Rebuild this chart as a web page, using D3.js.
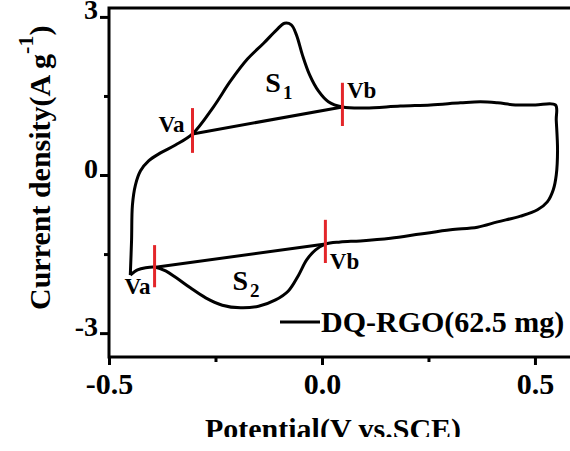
<!DOCTYPE html>
<html>
<head>
<meta charset="utf-8">
<script src="https://cdn.jsdelivr.net/npm/d3@7"></script>
<style>
  body { margin: 0; background: #fff; }
  svg { display: block; }
  text { font-family: "Liberation Serif", "Times New Roman", serif; font-weight: bold; fill: #000; }
</style>
</head>
<body>
<div id="graph"></div>
<script>
// CV loop, traced around from the lower-left corner (anodic branch first)
var cvPotential = [-0.450, -0.447, -0.445, -0.438, -0.426, -0.407, -0.379, -0.344, -0.304,
  -0.255, -0.215, -0.175, -0.137, -0.107, -0.088, -0.072, -0.060, -0.046, -0.029, -0.008,
  0.015, 0.048, 0.102, 0.184, 0.255, 0.325, 0.372, 0.412, 0.454, 0.501, 0.548,
  0.550, 0.553, 0.550, 0.543, 0.529, 0.506, 0.466, 0.412, 0.365, 0.302, 0.231, 0.161,
  0.090, 0.043, 0.008, -0.015, -0.036, -0.055, -0.079, -0.109, -0.149, -0.191, -0.234,
  -0.273, -0.309, -0.342, -0.367, -0.391, -0.414, -0.433, -0.450];
var cvCurrent = [-1.90, -1.23, -0.57, -0.19, 0.08, 0.27, 0.42, 0.57, 0.78,
  1.29, 1.78, 2.20, 2.50, 2.75, 2.88, 2.85, 2.66, 2.28, 1.90, 1.59,
  1.39, 1.29, 1.27, 1.31, 1.33, 1.37, 1.39, 1.37, 1.33, 1.33, 1.33,
  1.04, 0.47, 0.00, -0.28, -0.51, -0.66, -0.78, -0.89, -0.99, -1.04, -1.12, -1.20,
  -1.25, -1.27, -1.31, -1.42, -1.61, -1.90, -2.20, -2.37, -2.49, -2.52, -2.47,
  -2.33, -2.14, -1.95, -1.82, -1.75, -1.76, -1.80, -1.90];

// straight baselines between Va and Vb
var baseUpperV = [-0.304, 0.048];
var baseUpperI = [0.78, 1.29];
var baseLowerV = [-0.391, 0.008];
var baseLowerI = [-1.75, -1.31];

// red markers at Va / Vb
var markerV = [-0.304, 0.048, -0.393, 0.008];
var markerTop = [1.27, 1.75, -1.33, -0.85];
var markerBottom = [0.42, 0.93, -2.13, -1.67];

// text labels
var labelText = ["Va", "Vb", "Va", "Vb"];
var labelV = [-0.353, 0.093, -0.433, 0.053];
var labelI = [0.82, 1.46, -2.26, -1.78];

var areaText = ["S", "S"];
var areaSub = ["1", "2"];
var areaV = [-0.133, -0.210];
var areaI = [1.57, -2.18];

var xTicks = [-0.5, 0.0, 0.5];
var xMinor = [-0.25, 0.25];
var yTicks = [-3, 0, 3];
var yMinor = [-1.5, 1.5];

var seriesName = "DQ-RGO(62.5 mg)";

var width = 570, height = 451;
var plotLeft = 109, plotRight = 575, plotTop = 8, plotBottom = 357;

var svg = d3.select("#graph").append("svg")
    .attr("width", width)
    .attr("height", height);

var x = d3.scaleLinear().domain([-0.5, 0.594]).range([plotLeft, plotRight]);
var y = d3.scaleLinear().domain([-3.453, 3.169]).range([plotBottom, plotTop]);

// axes
svg.append("g")
    .attr("transform", "translate(0," + plotBottom + ")")
    .call(d3.axisBottom(x).tickValues(xTicks).tickSize(8).tickPadding(8)
        .tickFormat(function(d) { return d.toFixed(1); }))
    .selectAll("text").style("font-size", "30px");
svg.append("g")
    .attr("transform", "translate(0," + plotBottom + ")")
    .call(d3.axisBottom(x).tickValues(xMinor).tickSize(5).tickFormat(""));
svg.append("g")
    .attr("transform", "translate(" + plotLeft + ",0)")
    .call(d3.axisLeft(y).tickValues(yTicks).tickSize(9).tickPadding(2)
        .tickFormat(function(d) { return String(d); }))
    .selectAll("text").attr("dy", 2).style("font-size", "28px");
svg.append("g")
    .attr("transform", "translate(" + plotLeft + ",0)")
    .call(d3.axisLeft(y).tickValues(yMinor).tickSize(5).tickFormat(""));

svg.selectAll(".domain").remove();
svg.selectAll(".tick line").attr("stroke", "#000").attr("stroke-width", 3);
svg.selectAll(".tick text").attr("font-family", null);

svg.append("rect")
    .attr("x", plotLeft).attr("y", plotTop)
    .attr("width", plotRight - plotLeft).attr("height", plotBottom - plotTop)
    .attr("fill", "none").attr("stroke", "#000").attr("stroke-width", 3);

// curves
var line = d3.line()
    .x(function(d) { return x(d[0]); })
    .y(function(d) { return y(d[1]); })
    .curve(d3.curveCatmullRom.alpha(0.5));

var cvData = cvPotential.map(function(v, i) { return [v, cvCurrent[i]]; });
svg.append("path")
    .datum(cvData)
    .attr("d", line)
    .attr("fill", "none")
    .attr("stroke", "#000")
    .attr("stroke-width", 3)
    .attr("stroke-linejoin", "round");

[[baseUpperV, baseUpperI], [baseLowerV, baseLowerI]].forEach(function(b) {
    svg.append("line")
        .attr("x1", x(b[0][0])).attr("y1", y(b[1][0]))
        .attr("x2", x(b[0][1])).attr("y2", y(b[1][1]))
        .attr("stroke", "#000").attr("stroke-width", 3);
});

svg.selectAll(".marker")
    .data(markerV)
    .enter().append("line")
    .attr("class", "marker")
    .attr("x1", function(d) { return x(d); })
    .attr("x2", function(d) { return x(d); })
    .attr("y1", function(d, i) { return y(markerTop[i]); })
    .attr("y2", function(d, i) { return y(markerBottom[i]); })
    .attr("stroke", "#e3262a")
    .attr("stroke-width", 3);

svg.selectAll(".vlabel")
    .data(labelText)
    .enter().append("text")
    .attr("class", "vlabel")
    .attr("x", function(d, i) { return x(labelV[i]); })
    .attr("y", function(d, i) { return y(labelI[i]); })
    .attr("text-anchor", "middle")
    .style("font-size", "23px")
    .text(function(d) { return d; });

var areaLabel = svg.selectAll(".alabel")
    .data(areaText)
    .enter().append("text")
    .attr("class", "alabel")
    .attr("x", function(d, i) { return x(areaV[i]); })
    .attr("y", function(d, i) { return y(areaI[i]); })
    .style("font-size", "28px");
areaLabel.append("tspan").text(function(d) { return d; });
areaLabel.append("tspan")
    .attr("dx", 2).attr("dy", 7)
    .style("font-size", "19px")
    .text(function(d, i) { return areaSub[i]; });

// legend
svg.append("line")
    .attr("x1", 280).attr("x2", 320)
    .attr("y1", 322).attr("y2", 322)
    .attr("stroke", "#000").attr("stroke-width", 3);
svg.append("text")
    .attr("x", 321).attr("y", 332)
    .style("font-size", "30px")
    .text(seriesName);

// axis titles
svg.append("text")
    .attr("x", 333).attr("y", 439)
    .attr("text-anchor", "middle")
    .style("font-size", "30px")
    .text("Potential(V vs.SCE)");

var yTitle = svg.append("text")
    .attr("transform", "translate(50,310) rotate(-90)")
    .style("font-size", "30px");
yTitle.append("tspan").text("Current density(A g");
yTitle.append("tspan").attr("dy", -17).style("font-size", "22px").text("-1");
yTitle.append("tspan").attr("dy", 17).text(")");

// the source picture is cut off just under the x title
svg.append("rect")
    .attr("x", 0).attr("y", 437)
    .attr("width", width).attr("height", height - 437)
    .attr("fill", "#fff");
</script>
</body>
</html>
